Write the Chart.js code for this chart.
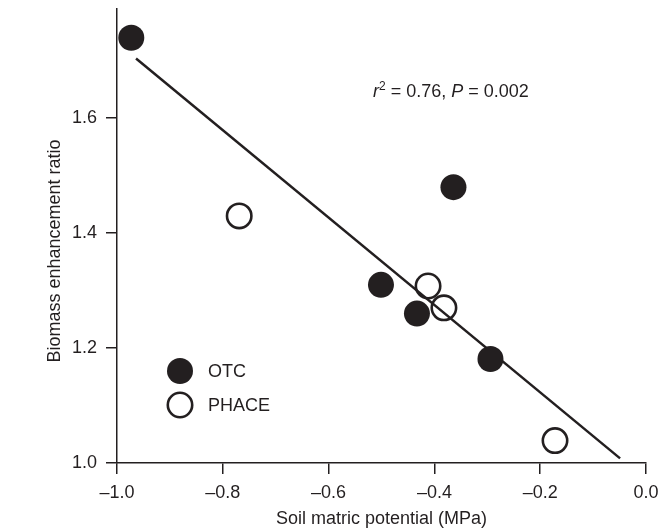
<!DOCTYPE html>
<html>
<head>
<meta charset="utf-8">
<script src="https://cdn.jsdelivr.net/npm/chart.js@4.4.0/dist/chart.umd.min.js"></script>
<style>
    html, body {margin: 0; padding: 0; background: #fff;}
    #wrap {width: 671px; height: 530px;}
</style>
</head>
<body>
<div id="wrap"><canvas id="soilChart"></canvas></div>
<script>
// Du lieu doc tu hinh
const otcX = [-0.973, -0.364, -0.501, -0.433, -0.294];
const otcY = [1.74, 1.48, 1.31, 1.26, 1.181];
const phaceX = [-0.769, -0.412, -0.382, -0.172];
const phaceY = [1.43, 1.308, 1.27, 1.039];
// duong hoi quy (2 dau mut)
const fitX = [-0.964, -0.049];
const fitY = [1.704, 1.008];
const xTicks = [-1.0, -0.8, -0.6, -0.4, -0.2, 0.0];
const xTickLabels = ['–1.0', '–0.8', '–0.6', '–0.4', '–0.2', '0.0'];
const yTicks = [1.0, 1.2, 1.4, 1.6];
const yTickLabels = ['1.0', '1.2', '1.4', '1.6'];

const ink = '#231f20';
const fontFam = '"Liberation Sans", Arial, Helvetica, sans-serif';

const toPts = (xs, ys) => xs.map((x, i) => ({x: x, y: ys[i]}));

// Chu thich + nhan truc y + r2
const extras = {
    id: 'extras',
    afterDraw(chart) {
        const c = chart.ctx;
        const area = chart.chartArea;
        const sx = chart.scales.x, sy = chart.scales.y;
        c.save();
        c.fillStyle = ink;
        // ten truc y
        c.font = '18px ' + fontFam;
        c.textAlign = 'center';
        c.textBaseline = 'middle';
        c.translate(55, 251);
        c.rotate(-Math.PI / 2);
        c.fillText('Biomass enhancement ratio', 0, 0);
        c.restore();

        // r2, P
        c.save();
        c.fillStyle = ink;
        c.textBaseline = 'alphabetic';
        c.textAlign = 'left';
        let px = sx.getPixelForValue(-0.516);
        const py = sy.getPixelForValue(1.637);
        const parts = [
            {t: 'r', f: 'italic 18px ', dy: 0},
            {t: '2', f: '12px ', dy: -7},
            {t: ' = 0.76, ', f: '18px ', dy: 0},
            {t: 'P', f: 'italic 18px ', dy: 0},
            {t: ' = 0.002', f: '18px ', dy: 0}
        ];
        parts.forEach(p => {
            c.font = p.f + fontFam;
            c.fillText(p.t, px, py + p.dy);
            px += c.measureText(p.t).width;
        });

        // chu thich
        const lx = area.left + 63;
        const rows = [{ds: 0, y: area.bottom - 92}, {ds: 1, y: area.bottom - 58}];
        rows.forEach(r => {
            const ds = chart.data.datasets[r.ds];
            c.beginPath();
            c.arc(lx, r.y, ds.pointRadius, 0, Math.PI * 2);
            if (r.ds === 0) {
                c.fillStyle = ds.backgroundColor;
                c.fill();
            } else {
                c.lineWidth = ds.borderWidth;
                c.strokeStyle = ds.borderColor;
                c.stroke();
            }
            c.fillStyle = ink;
            c.font = '18px ' + fontFam;
            c.textBaseline = 'middle';
            c.fillText(ds.label, lx + 28, r.y + 1);
        });
        c.restore();
    }
};

const ctx = document.getElementById('soilChart');
new Chart(ctx, {
    type: 'scatter',
    data: {
        datasets: [
            {
                label: 'OTC',
                data: toPts(otcX, otcY),
                backgroundColor: ink,
                borderColor: ink,
                borderWidth: 0,
                pointRadius: 13,
                pointHoverRadius: 13,
                clip: false,
                order: 1
            },
            {
                label: 'PHACE',
                data: toPts(phaceX, phaceY),
                backgroundColor: 'rgba(0,0,0,0)',
                borderColor: ink,
                borderWidth: 2.6,
                pointRadius: 12.2,
                pointHoverRadius: 12.2,
                clip: false,
                order: 2
            },
            {
                type: 'line',
                label: 'fit',
                data: toPts(fitX, fitY),
                borderColor: ink,
                borderWidth: 2.5,
                pointRadius: 0,
                fill: false,
                order: 3
            }
        ]
    },
    options: {
        responsive: true,
        maintainAspectRatio: false,
        animation: false,
        layout: {autoPadding: false, padding: {top: 9, right: 25, left: 0, bottom: 0}},
        plugins: {legend: {display: false}, tooltip: {enabled: false}},
        scales: {
            x: {
                type: 'linear',
                min: -1.0,
                max: 0.0,
                afterBuildTicks: s => { s.ticks = xTicks.map(v => ({value: v})); },
                afterFit: s => { s.height = 67; s.paddingLeft = 0; s.paddingRight = 0; },
                ticks: {
                    color: ink,
                    font: {family: fontFam, size: 18},
                    padding: 8,
                    maxRotation: 0,
                    callback: (v, i) => xTickLabels[i]
                },
                grid: {display: true, drawOnChartArea: false, drawTicks: true, tickLength: 11, color: ink, lineWidth: 1.5},
                border: {display: true, color: ink, width: 1.5},
                title: {
                    display: true,
                    text: 'Soil matric potential (MPa)',
                    color: ink,
                    font: {family: fontFam, size: 18},
                    padding: {top: 0, bottom: 0}
                }
            },
            y: {
                type: 'linear',
                min: 1.0,
                max: 1.79,
                afterBuildTicks: s => { s.ticks = yTicks.map(v => ({value: v})); },
                afterFit: s => { s.width = 117; s.paddingTop = 0; s.paddingBottom = 0; },
                ticks: {
                    color: ink,
                    font: {family: fontFam, size: 18},
                    padding: 9,
                    callback: (v, i) => yTickLabels[i]
                },
                grid: {display: true, drawOnChartArea: false, drawTicks: true, tickLength: 11, color: ink, lineWidth: 1.5},
                border: {display: true, color: ink, width: 1.5}
            }
        }
    },
    plugins: [extras]
});
</script>
</body>
</html>
